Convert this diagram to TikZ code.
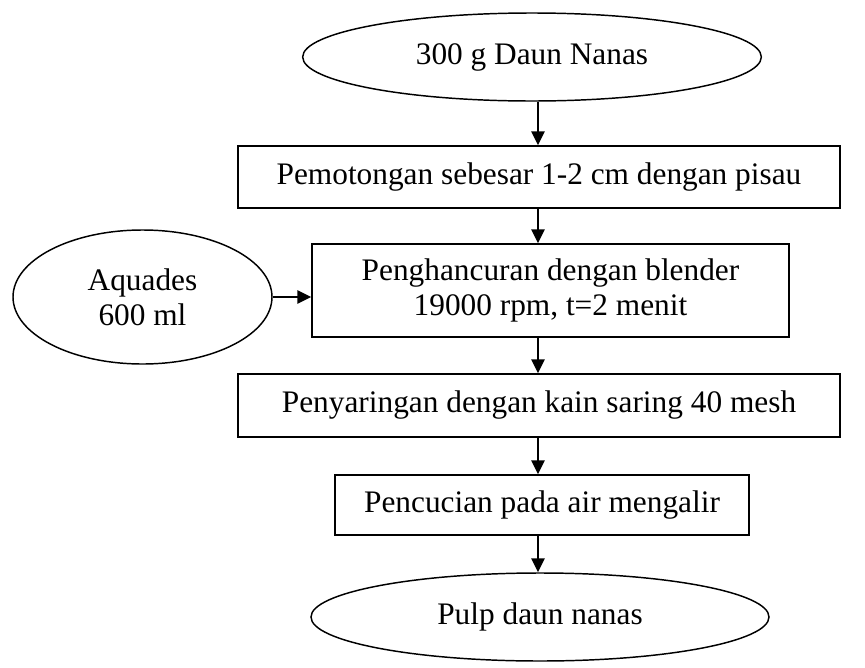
\documentclass[tikz,border=0pt]{standalone}
\usepackage{fontspec}
\setmainfont{Liberation Serif}
\usetikzlibrary{shapes.geometric,arrows.meta}
\begin{document}
\begin{tikzpicture}[x=0.75pt,y=-0.75pt,
  every node/.style={font=\fontsize{23.5}{26}\selectfont, inner sep=0pt, align=center},
  procbox/.style={draw, line width=1.1pt, rectangle},
  termell/.style={draw, line width=1.1pt, ellipse},
  flow/.style={line width=1.2pt, -{Triangle[length=10.5pt,width=10pt]}}]
\useasboundingbox (0,0) rectangle (865,668);
\coordinate (ax) at (538,0);
\node[termell, minimum width=344pt, minimum height=66pt] (top) at (532,57) {300 g Daun Nanas};
\node[procbox, minimum width=451.5pt, minimum height=46.5pt] (b1) at (539,177) {Pemotongan sebesar 1-2 cm dengan pisau};
\node[procbox, minimum width=357.75pt, minimum height=69.75pt] (b2) at (550.5,290.5) {Penghancuran dengan blender\\19000 rpm, t=2 menit};
\node[termell, minimum width=194.25pt, minimum height=100.5pt] (aq) at (142.5,297) {Aquades\\600 ml};
\node[procbox, minimum width=451.5pt, minimum height=47.25pt] (b3) at (539,405.5) {Penyaringan dengan kain saring 40 mesh};
\node[procbox, minimum width=310.5pt, minimum height=45pt] (b4) at (542,505) {Pencucian pada air mengalir};
\node[termell, minimum width=343.5pt, minimum height=66pt] (bot) at (540,617) {Pulp daun nanas};
\draw[flow] (top.south -| ax) -- (b1.north -| ax);
\draw[flow] (b1.south -| ax) -- (b2.north -| ax);
\draw[flow] (aq.east) -- (aq.east -| b2.west);
\draw[flow] (b2.south -| ax) -- (b3.north -| ax);
\draw[flow] (b3.south -| ax) -- (b4.north -| ax);
\draw[flow] (b4.south -| ax) -- (bot.north -| ax);
\end{tikzpicture}
\end{document}
